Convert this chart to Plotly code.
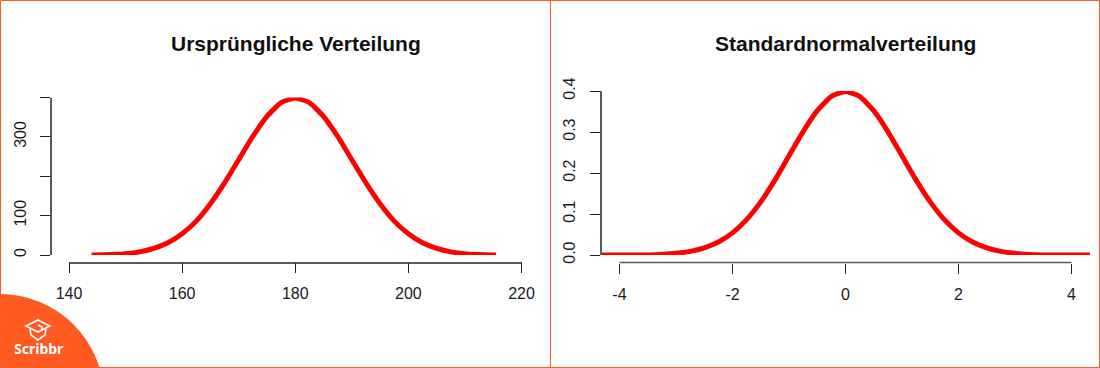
import plotly.graph_objects as go

W, H = 1100, 368
ORANGE = "#FF5A1F"
AXIS = "#5A5A5A"
FONT = "Liberation Sans, Arial, sans-serif"

# Left panel
left_x = [144, 147.5, 150, 152.5, 155, 157.5, 160, 162.5, 165, 167.5, 170, 172.5, 175, 177.5, 180,
          182.5, 185, 187.5, 190, 192.5, 195, 197.5, 200, 202.5, 205, 207.5, 210, 212.5, 215.5]
left_y = [0, 1, 3, 8, 17, 31, 54, 86, 130, 183, 242, 301, 352, 387, 399,
          387, 352, 301, 242, 183, 130, 86, 54, 31, 17, 8, 3, 1, 0]
left_xticks = [140, 160, 180, 200, 220]
left_yticks = [0, 100, 200, 300, 400]
left_ylabels = ["0", "100", "", "300", ""]
left_title = "Ursprüngliche Verteilung"

# Right panel
right_x = [-4.327, -4, -3.5, -3.25, -3, -2.75, -2.5, -2.25, -2, -1.75, -1.5, -1.25, -1, -0.75, -0.5, -0.25, 0,
           0.25, 0.5, 0.75, 1, 1.25, 1.5, 1.75, 2, 2.25, 2.5, 2.75, 3, 3.25, 3.5, 4, 4.327]
right_y = [0, 0, 0.0003, 0.0015, 0.004, 0.0088, 0.0175, 0.0317, 0.054, 0.0863, 0.1295, 0.1826, 0.242, 0.3011,
           0.3521, 0.3867, 0.3989,
           0.3867, 0.3521, 0.3011, 0.242, 0.1826, 0.1295, 0.0863, 0.054, 0.0317, 0.0175, 0.0088, 0.004, 0.0015, 0.0003,
           0, 0]
right_xrange = [-4.327, 4.327]
right_xticks = [-4, -2, 0, 2, 4]
right_yticks = [0.0, 0.1, 0.2, 0.3, 0.4]
right_ylabels = ["0.0", "0.1", "0.2", "0.3", "0.4"]
right_title = "Standardnormalverteilung"


def px(x):
    return x / W


def py(y):
    return 1 - y / H


def pth(points):
    return " ".join(c + f"{px(x):.5f},{py(y):.5f}" for c, x, y in points)


fig = go.Figure()
line = dict(color="#FF0000", width=5, shape="spline", smoothing=0.5)
fig.add_trace(go.Scatter(x=left_x, y=left_y, mode="lines", line=line, xaxis="x", yaxis="y", cliponaxis=False))
fig.add_trace(go.Scatter(x=right_x, y=right_y, mode="lines", line=line, xaxis="x2", yaxis="y2", cliponaxis=False))


def xax(x0, x1, ticks, rng, showline):
    return dict(domain=[px(x0), px(x1)], range=rng, anchor="free", position=py(262.5), side="bottom",
                tickmode="array", tickvals=ticks, ticktext=[str(t) for t in ticks],
                showline=showline, linecolor=AXIS, linewidth=1.5, ticks="outside", ticklen=10, tickwidth=1,
                tickcolor="#222222", showgrid=False, zeroline=False, tickangle=0, ticklabelstandoff=7,
                tickfont=dict(family=FONT, size=16, color="#1A1A1A"))


def yax(y_top, y_bot, ticks, labels, rng, pos, standoff):
    return dict(domain=[py(y_bot), py(y_top)], range=rng, anchor="free", position=px(pos), side="left",
                tickmode="array", tickvals=ticks, ticktext=labels,
                showline=True, linecolor=AXIS, linewidth=2, ticks="outside", ticklen=10, tickwidth=1,
                tickcolor="#222222", showgrid=False, zeroline=False, tickangle=-90, ticklabelstandoff=standoff,
                tickfont=dict(family=FONT, size=16, color="#1A1A1A"))


icon = dict(type="path", xref="paper", yref="paper", line=dict(color="white", width=1.6))
shapes = [
    # x axis line of the right panel runs only between its outer ticks
    dict(type="line", xref="x2", yref="paper", x0=right_xticks[0], x1=right_xticks[-1], y0=py(262.5), y1=py(262.5),
         line=dict(color=AXIS, width=1.5)),
    dict(type="line", xref="paper", yref="paper", x0=px(550.5), x1=px(550.5), y0=0, y1=1,
         line=dict(color=ORANGE, width=1)),
    dict(type="rect", xref="paper", yref="paper", x0=px(0.5), x1=px(W - 0.5), y0=py(H - 0.5), y1=py(0.5),
         line=dict(color=ORANGE, width=1)),
    dict(type="circle", xref="paper", yref="paper", x0=px(-104), x1=px(104), y0=py(502), y1=py(294),
         fillcolor=ORANGE, line=dict(width=0)),
    dict(icon, path=pth([("M", 38, 320), ("L", 50, 326), ("L", 38, 332), ("L", 26, 326)]) + " Z"),
    dict(icon, path=pth([("M", 30, 329), ("L", 31, 335), ("L", 38, 340), ("L", 45, 335), ("L", 46, 329)])),
    dict(icon, path=pth([("M", 38, 325), ("L", 42, 327), ("L", 42, 331)])),
]

annotations = [
    dict(text=f"<b>{left_title}</b>", xref="paper", yref="paper", x=px(295.5), y=py(44), showarrow=False,
         xanchor="center", yanchor="middle", font=dict(family=FONT, size=21, color="#111111")),
    dict(text=f"<b>{right_title}</b>", xref="paper", yref="paper", x=px(845), y=py(44), showarrow=False,
         xanchor="center", yanchor="middle", font=dict(family=FONT, size=21, color="#111111")),
    dict(text="<b>Scribbr</b>", xref="paper", yref="paper", x=px(38.5), y=py(348), showarrow=False,
         xanchor="center", yanchor="middle", font=dict(family="Noto Sans, sans-serif", size=14, color="white")),
]

fig.update_layout(
    width=W, height=H, margin=dict(l=0, r=0, t=0, b=0, pad=0, autoexpand=False), showlegend=False,
    paper_bgcolor="white", plot_bgcolor="white",
    xaxis=xax(69, 521.5, left_xticks, [140, 220], True),
    yaxis=yax(97.5, 255, left_yticks, left_ylabels, [0, 400], 51, 8),
    xaxis2=xax(601, 1090, right_xticks, right_xrange, False),
    yaxis2=yax(91, 255, right_yticks, right_ylabels, [0, 0.4], 601, 9),
    shapes=shapes, annotations=annotations,
)

fig.write_html("out.html", config={"displayModeBar": False},
               post_script="document.body.style.margin='0';document.body.style.overflow='hidden';")
